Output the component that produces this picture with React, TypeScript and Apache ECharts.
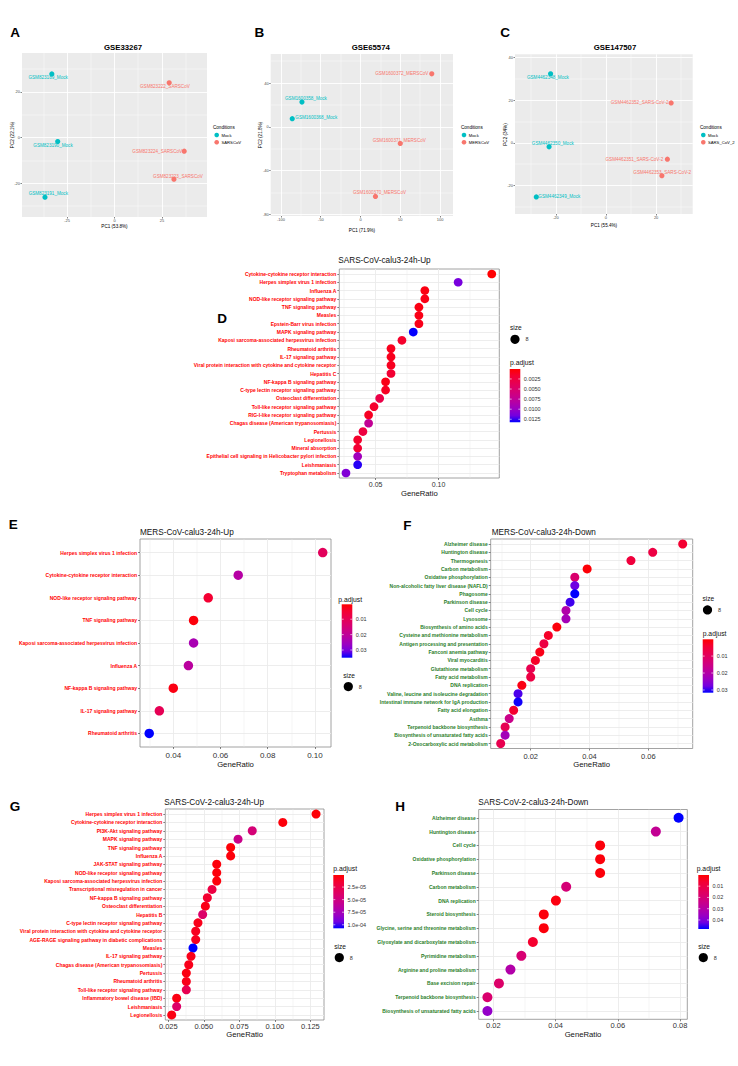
import React, { useEffect, useRef } from "react";
import * as echarts from "echarts";

const FONT = "'Liberation Sans', Arial, Helvetica, sans-serif";
const MOCK_COLOR = "#00BFC4";
const CASE_COLOR = "#F8766D";
const RED_LABEL = "#FF0000";
const GREEN_LABEL = "#2A7E2A";
const PADJ_COLORS = ["#FF0000", "#F40031", "#E8004F", "#DA006C", "#CA0088", "#B500A5", "#9A00C3", "#7300E0", "#0000FF"];

// ---------------- PCA data ----------------
const gse33267Samples = ["GSM823189_Mock", "GSM823190_Mock", "GSM823191_Mock", "GSM823222_SARSCoV", "GSM823224_SARSCoV", "GSM823223_SARSCoV"];
const gse33267PC1 = [-33.0, -29.9, -36.6, 28.8, 36.7, 31.3];
const gse33267PC2 = [27.9, -1.8, -26.2, 24.0, -6.0, -18.3];
const gse33267Mock = [true, true, true, false, false, false];
const gse33267XTicks = [-25, 0, 25];
const gse33267YTicks = [-20, 0, 20];

const gse65574Samples = ["GSM1600358_Mock", "GSM1600368_Mock", "GSM1600372_MERSCoV", "GSM1600371_MERSCoV", "GSM1600370_MERSCoV"];
const gse65574PC1 = [-73.6, -85.8, 89.6, 50.0, 18.8];
const gse65574PC2 = [22.7, 7.5, 48.5, -15.2, -63.6];
const gse65574Mock = [true, true, false, false, false];
const gse65574XTicks = [-100, -50, 0, 50, 100];
const gse65574YTicks = [-80, -40, 0, 40];

const gse147507Samples = ["GSM4462348_Mock", "GSM4462350_Mock", "GSM4462349_Mock", "GSM4462352_SARS-CoV-2", "GSM4462351_SARS-CoV-2", "GSM4462353_SARS-CoV-2"];
const gse147507PC1 = [-22.1, -22.7, -27.8, 26.0, 24.5, 22.3];
const gse147507PC2 = [32.4, -1.9, -25.5, 18.7, -7.7, -15.5];
const gse147507Mock = [true, true, true, false, false, false];
const gse147507XTicks = [-20, 0, 20];
const gse147507YTicks = [-20, 0, 20, 40];

// ---------------- Enrichment data ----------------
const dNames = [
  "Cytokine-cytokine receptor interaction", "Herpes simplex virus 1 infection", "Influenza A",
  "NOD-like receptor signaling pathway", "TNF signaling pathway", "Measles", "Epstein-Barr virus infection",
  "MAPK signaling pathway", "Kaposi sarcoma-associated herpesvirus infection", "Rheumatoid arthritis",
  "IL-17 signaling pathway", "Viral protein interaction with cytokine and cytokine receptor", "Hepatitis C",
  "NF-kappa B signaling pathway", "C-type lectin receptor signaling pathway", "Osteoclast differentiation",
  "Toll-like receptor signaling pathway", "RIG-I-like receptor signaling pathway",
  "Chagas disease (American trypanosomiasis)", "Pertussis", "Legionellosis", "Mineral absorption",
  "Epithelial cell signaling in Helicobacter pylori infection", "Leishmaniasis", "Tryptophan metabolism",
];
const dRatio = [0.1423, 0.1156, 0.0891, 0.0891, 0.0844, 0.0844, 0.0844, 0.0799, 0.0709, 0.0622, 0.0622, 0.0622, 0.0622, 0.0579, 0.0579, 0.0532, 0.0487, 0.0444, 0.0444, 0.0399, 0.0357, 0.0357, 0.0357, 0.0357, 0.0264];
const dPadj = [0.0001, 0.0114, 0.0006, 0.0008, 0.0007, 0.0008, 0.0009, 0.0132, 0.0015, 0.001, 0.001, 0.0011, 0.0018, 0.0008, 0.0012, 0.0029, 0.0015, 0.0012, 0.0073, 0.0025, 0.0015, 0.0018, 0.0095, 0.0127, 0.011];
const dXTicks = [0.05, 0.1];
const dPTicks = [0.0025, 0.005, 0.0075, 0.01, 0.0125];
const dPLabels = ["0.0025", "0.0050", "0.0075", "0.0100", "0.0125"];

const eNames = [
  "Herpes simplex virus 1 infection", "Cytokine-cytokine receptor interaction", "NOD-like receptor signaling pathway",
  "TNF signaling pathway", "Kaposi sarcoma-associated herpesvirus infection", "Influenza A",
  "NF-kappa B signaling pathway", "IL-17 signaling pathway", "Rheumatoid arthritis",
];
const eRatio = [0.1033, 0.0675, 0.0548, 0.0486, 0.0486, 0.0464, 0.04, 0.0341, 0.0298];
const ePadj = [0.0107, 0.0218, 0.0048, 0.0013, 0.0239, 0.021, 0.002, 0.0097, 0.035];
const eXTicks = [0.04, 0.06, 0.08, 0.1];
const ePTicks = [0.01, 0.02, 0.03];
const ePLabels = ["0.01", "0.02", "0.03"];

const fNames = [
  "Alzheimer disease", "Huntington disease", "Thermogenesis", "Carbon metabolism", "Oxidative phosphorylation",
  "Non-alcoholic fatty liver disease (NAFLD)", "Phagosome", "Parkinson disease", "Cell cycle", "Lysosome",
  "Biosynthesis of amino acids", "Cysteine and methionine metabolism", "Antigen processing and presentation",
  "Fanconi anemia pathway", "Viral myocarditis", "Glutathione metabolism", "Fatty acid metabolism",
  "DNA replication", "Valine, leucine and isoleucine degradation", "Intestinal immune network for IgA production",
  "Fatty acid elongation", "Asthma", "Terpenoid backbone biosynthesis", "Biosynthesis of unsaturated fatty acids",
  "2-Oxocarboxylic acid metabolism",
];
const fRatio = [0.0717, 0.0615, 0.0541, 0.0392, 0.035, 0.035, 0.035, 0.0334, 0.032, 0.032, 0.0289, 0.026, 0.0245, 0.0231, 0.0216, 0.02, 0.02, 0.017, 0.0157, 0.0157, 0.0142, 0.0127, 0.0113, 0.0113, 0.0098];
const fPadj = [0.0042, 0.0064, 0.0055, 0.0007, 0.0121, 0.0278, 0.0316, 0.0294, 0.0203, 0.0222, 0.001, 0.0033, 0.0064, 0.002, 0.0033, 0.008, 0.0064, 0.0017, 0.029, 0.031, 0.0039, 0.0158, 0.0086, 0.0222, 0.008];
const fXTicks = [0.02, 0.04, 0.06];
const fPTicks = [0.01, 0.02, 0.03];
const fPLabels = ["0.01", "0.02", "0.03"];

const gNames = [
  "Herpes simplex virus 1 infection", "Cytokine-cytokine receptor interaction", "PI3K-Akt signaling pathway",
  "MAPK signaling pathway", "TNF signaling pathway", "Influenza A", "JAK-STAT signaling pathway",
  "NOD-like receptor signaling pathway", "Kaposi sarcoma-associated herpesvirus infection",
  "Transcriptional misregulation in cancer", "NF-kappa B signaling pathway", "Osteoclast differentiation",
  "Hepatitis B", "C-type lectin receptor signaling pathway",
  "Viral protein interaction with cytokine and cytokine receptor",
  "AGE-RAGE signaling pathway in diabetic complications", "Measles", "IL-17 signaling pathway",
  "Chagas disease (American trypanosomiasis)", "Pertussis", "Rheumatoid arthritis",
  "Toll-like receptor signaling pathway", "Inflammatory bowel disease (IBD)", "Leishmaniasis", "Legionellosis",
];
const gRatio = [0.129, 0.1056, 0.0841, 0.0741, 0.0689, 0.0689, 0.0591, 0.0591, 0.0591, 0.0558, 0.0525, 0.0511, 0.0492, 0.0459, 0.0443, 0.0443, 0.0424, 0.041, 0.0394, 0.0377, 0.0377, 0.0377, 0.0309, 0.0309, 0.0274];
const gPadj = [3e-6, 4e-6, 4.55e-5, 5.4e-5, 3e-6, 4e-6, 4e-6, 4e-6, 4e-6, 2.2e-5, 1.4e-5, 7e-6, 3.9e-5, 8e-6, 9.5e-6, 9.5e-6, 1.07e-4, 8e-6, 8e-6, 6e-6, 8e-6, 2.85e-5, 6e-6, 3.8e-5, 6e-6];
const gXTicks = [0.025, 0.05, 0.075, 0.1, 0.125];
const gPTicks = [2.5e-5, 5e-5, 7.5e-5, 1e-4];
const gPLabels = ["2.5e-05", "5.0e-05", "7.5e-05", "1.0e-04"];

const hNames = [
  "Alzheimer disease", "Huntington disease", "Cell cycle", "Oxidative phosphorylation", "Parkinson disease",
  "Carbon metabolism", "DNA replication", "Steroid biosynthesis", "Glycine, serine and threonine metabolism",
  "Glyoxylate and dicarboxylate metabolism", "Pyrimidine metabolism", "Arginine and proline metabolism",
  "Base excision repair", "Terpenoid backbone biosynthesis", "Biosynthesis of unsaturated fatty acids",
];
const hRatio = [0.0795, 0.0722, 0.0543, 0.0543, 0.0543, 0.0434, 0.0401, 0.0362, 0.0362, 0.0327, 0.029, 0.0255, 0.0218, 0.0181, 0.0181];
const hPadj = [0.048, 0.0264, 0.0015, 0.0015, 0.0015, 0.0202, 0.002, 0.0015, 0.0015, 0.0058, 0.0193, 0.0308, 0.0173, 0.0183, 0.037];
const hXTicks = [0.02, 0.04, 0.06, 0.08];
const hPTicks = [0.01, 0.02, 0.03, 0.04];
const hPLabels = ["0.01", "0.02", "0.03", "0.04"];

// minor grid positions (half way between major ticks)
const minorOf = (ticks: number[], lo: number, hi: number) => {
  const step = ticks[1] - ticks[0];
  const out: number[] = [];
  for (let v = ticks[0] - step / 2; v <= hi; v += step) {
    if (v >= lo) out.push(+v.toFixed(8));
  }
  return out;
};

function buildOption() {
  const grid: any[] = [];
  const xAxis: any[] = [];
  const yAxis: any[] = [];
  const series: any[] = [];
  const visualMap: any[] = [];
  const graphic: any[] = [];

  const addText = (x: number, y: number, t: string, o: any = {}) => {
    graphic.push({
      type: "text",
      x,
      y,
      rotation: o.rotation || 0,
      silent: true,
      z: 10,
      style: {
        text: t,
        fontFamily: FONT,
        fontSize: o.size || 6,
        fontWeight: o.weight || "normal",
        fill: o.color || "#000",
        textAlign: o.align || "left",
        align: o.align || "left",
        textVerticalAlign: "middle",
        verticalAlign: "middle",
      },
    });
  };

  const valueAxis = (gi: number, min: number, max: number, ticks: number[], o: any) => ({
    type: "value",
    gridIndex: gi,
    min,
    max,
    inverse: !!o.inverse,
    position: o.position,
    axisLine: { show: false, onZero: false },
    axisTick: {
      show: !!o.tick,
      customValues: ticks,
      length: o.tickLen || 2,
      lineStyle: { color: o.tickColor || "#333", width: 0.6 },
    },
    axisLabel: o.label
      ? {
          show: true,
          customValues: ticks,
          formatter: o.formatter,
          fontSize: o.fontSize,
          fontFamily: FONT,
          color: o.labelColor || "#333",
          fontWeight: o.labelWeight || "normal",
          margin: o.margin ?? 3,
        }
      : { show: false, customValues: ticks },
    splitLine: { show: true, lineStyle: { color: o.gridColor, width: o.gridWidth } },
    minorTick: { show: false },
    minorSplitLine: { show: false },
  });

  // ---------- PCA panels ----------
  const addPca = (p: any) => {
    const gi = grid.length;
    const [l, t, r, b] = p.box;
    grid.push({ left: l, top: t, width: r - l, height: b - t, show: true, backgroundColor: "#EBEBEB", borderWidth: 0 });
    const xi = xAxis.length;
    const common = { tick: true, tickLen: 1.5, label: true, formatter: (v: number) => String(v), fontSize: 4, labelColor: "#4D4D4D", tickColor: "#333" };
    xAxis.push(valueAxis(gi, p.xMin, p.xMax, p.xTicks, { ...common, margin: 1.5, gridColor: "#FFFFFF", gridWidth: 0.9, position: "bottom" }));
    xAxis.push(valueAxis(gi, p.xMin, p.xMax, minorOf(p.xTicks, p.xMin, p.xMax), { gridColor: "#FFFFFF", gridWidth: 0.45, position: "top" }));
    const yi = yAxis.length;
    yAxis.push(valueAxis(gi, p.yMin, p.yMax, p.yTicks, { ...common, margin: 2, gridColor: "#FFFFFF", gridWidth: 0.9, position: "left" }));
    yAxis.push(valueAxis(gi, p.yMin, p.yMax, minorOf(p.yTicks, p.yMin, p.yMax), { gridColor: "#FFFFFF", gridWidth: 0.45, position: "right" }));
    [
      { mock: true, color: MOCK_COLOR },
      { mock: false, color: CASE_COLOR },
    ].forEach((g) => {
      const idx = p.names.map((_: string, i: number) => i).filter((i: number) => p.mock[i] === g.mock);
      series.push({
        type: "scatter",
        xAxisIndex: xi,
        yAxisIndex: yi,
        symbolSize: 5.2,
        silent: true,
        z: 3,
        itemStyle: { color: g.color, opacity: 1 },
        label: { show: true, formatter: "{b}", position: "inside", color: g.color, fontSize: 4.6, fontFamily: FONT },
        data: idx.map((i: number) => ({ name: p.names[i], value: [p.pc1[i], p.pc2[i]], label: { offset: p.offsets[i] } })),
      });
    });
    addText(p.titlePos[0], p.titlePos[1], p.title, { size: 7.8, weight: "bold", align: "center" });
    addText(p.xTitlePos[0], p.xTitlePos[1], p.xTitle, { size: 4.6, align: "center" });
    addText(p.yTitlePos[0], p.yTitlePos[1], p.yTitle, { size: 4.6, align: "center", rotation: Math.PI / 2 });
    const [lx, ly, cx, tx] = p.legend;
    addText(lx, ly, "Conditions", { size: 4.6 });
    [["Mock", MOCK_COLOR], [p.caseName, CASE_COLOR]].forEach((it, k) => {
      const y = ly + 7.3 * (k + 1);
      graphic.push({ type: "circle", silent: true, shape: { cx, cy: y, r: 2.3 }, style: { fill: it[1] } });
      addText(tx, y, it[0], { size: 4.2 });
    });
  };

  // ---------- dot plot panels ----------
  const addDot = (p: any) => {
    const gi = grid.length;
    const [l, t, r, b] = p.box;
    grid.push({ left: l, top: t, width: r - l, height: b - t, show: true, backgroundColor: "#FFFFFF", borderColor: "#8C8C8C", borderWidth: 0.8 });
    const xi = xAxis.length;
    xAxis.push(
      valueAxis(gi, p.xMin, p.xMax, p.xTicks, {
        tick: true,
        tickLen: 2,
        label: true,
        formatter: (v: number) => v.toFixed(p.xDec),
        fontSize: p.tickFont,
        labelColor: "#333",
        margin: p.tickMargin,
        gridColor: "#EBEBEB",
        gridWidth: 0.9,
        position: "bottom",
      })
    );
    xAxis.push(valueAxis(gi, p.xMin, p.xMax, minorOf(p.xTicks, p.xMin, p.xMax), { gridColor: "#EBEBEB", gridWidth: 0.45, position: "top" }));
    const yi = yAxis.length;
    const rows = p.names.map((_: string, i: number) => i);
    yAxis.push(
      valueAxis(gi, -0.6, p.names.length - 0.4, rows, {
        inverse: true,
        tick: true,
        tickLen: 2,
        label: true,
        formatter: (v: number) => p.names[Math.round(v)] ?? "",
        fontSize: 5,
        labelColor: p.labelColor,
        labelWeight: "bold",
        margin: 3,
        gridColor: "#EBEBEB",
        gridWidth: 0.9,
        position: "left",
      })
    );
    const si = series.length;
    series.push({
      type: "scatter",
      xAxisIndex: xi,
      yAxisIndex: yi,
      symbolSize: p.symbolSize,
      silent: true,
      z: 3,
      itemStyle: { opacity: 1 },
      data: p.ratio.map((v: number, i: number) => [v, i, p.padj[i]]),
    });
    visualMap.push({ type: "continuous", show: false, seriesIndex: si, dimension: 2, min: p.pMin, max: p.pMax, inRange: { color: PADJ_COLORS } });

    addText(p.titlePos[0], p.titlePos[1], p.title, { size: 8.2, color: "#111" });
    addText(p.xTitlePos[0], p.xTitlePos[1], "GeneRatio", { size: 7.7, align: "center", color: "#111" });

    // size legend
    const [sx, sy] = p.sizeLegend;
    addText(sx, sy, "size", { size: 6.6, color: "#111" });
    graphic.push({ type: "circle", silent: true, shape: { cx: sx + 5, cy: sy + 11.6, r: 4.6 }, style: { fill: "#000" } });
    addText(sx + 15.5, sy + 11.6, "8", { size: 5.5, color: "#333" });

    // colour bar
    const [px, py] = p.pLegend;
    addText(px, py, "p.adjust", { size: 6.8, color: "#111" });
    const [bl, bt, bw, bh] = [p.bar[0], p.bar[1], p.bar[2] - p.bar[0], p.bar[3] - p.bar[1]];
    graphic.push({
      type: "rect",
      silent: true,
      shape: { x: bl, y: bt, width: bw, height: bh },
      style: {
        fill: new echarts.graphic.LinearGradient(0, 0, 0, 1, PADJ_COLORS.map((c, i) => ({ offset: i / (PADJ_COLORS.length - 1), color: c }))),
      },
    });
    p.pTicks.forEach((v: number, i: number) => {
      const y = bt + ((v - p.pMin) / (p.pMax - p.pMin)) * bh;
      graphic.push({ type: "line", silent: true, shape: { x1: bl, y1: y, x2: bl + 2, y2: y }, style: { stroke: "#fff", lineWidth: 0.6 } });
      graphic.push({ type: "line", silent: true, shape: { x1: bl + bw - 2, y1: y, x2: bl + bw, y2: y }, style: { stroke: "#fff", lineWidth: 0.6 } });
      addText(bl + bw + 3.5, y, p.pLabels[i], { size: 5.5, color: "#333" });
    });
  };

  addPca({
    names: gse33267Samples, pc1: gse33267PC1, pc2: gse33267PC2, mock: gse33267Mock,
    offsets: [[-3.7, 3.3], [-4.7, 3.7], [3.3, -3.3], [-4.3, 4], [-27, 0], [4, -3]],
    box: [22, 53, 207, 217], xMin: -48.7, xMax: 48.7, xTicks: gse33267XTicks, yMin: -34.9, yMax: 37.1, yTicks: gse33267YTicks,
    title: "GSE33267", titlePos: [123, 47.3], xTitle: "PC1 (53.8%)", xTitlePos: [114.5, 226], yTitle: "PC2 (22.1%)", yTitlePos: [12.7, 135],
    legend: [213, 127.7, 216.7, 221.5], caseName: "SARSCoV",
  });
  addPca({
    names: gse65574Samples, pc1: gse65574PC1, pc2: gse65574PC2, mock: gse65574Mock,
    offsets: [[4, -3.3], [24, -0.7], [-30, 0], [-1, -3], [4, -3.6]],
    box: [270.7, 54, 453, 216], xMin: -112.9, xMax: 116.3, xTicks: gse65574XTicks, yMin: -81.5, yMax: 66.6, yTicks: gse65574YTicks,
    title: "GSE65574", titlePos: [370.8, 47.3], xTitle: "PC1 (71.9%)", xTitlePos: [362, 230], yTitle: "PC2 (21.8%)", yTitlePos: [260, 135],
    legend: [461, 127.7, 464, 468.8], caseName: "MERSCoV",
  });
  addPca({
    names: gse147507Samples, pc1: gse147507PC1, pc2: gse147507PC2, mock: gse147507Mock,
    offsets: [[-2.7, 3.3], [3.7, -3.7], [23, 0], [-31.5, 0], [-33, 0], [0.3, -3]],
    box: [515, 54.3, 692.7, 214], xMin: -36.3, xMax: 34.6, xTicks: gse147507XTicks, yMin: -33.5, yMax: 41.6, yTicks: gse147507YTicks,
    title: "GSE147507", titlePos: [615, 47.3], xTitle: "PC1 (55.4%)", xTitlePos: [604, 225], yTitle: "PC2 (34%)", yTitlePos: [505, 134.5],
    legend: [700, 127.7, 703.3, 708], caseName: "SARS_CoV_2",
  });

  addDot({
    names: dNames, ratio: dRatio, padj: dPadj, labelColor: RED_LABEL, title: "SARS-CoV-calu3-24h-Up",
    box: [339.3, 269, 499.3, 478], xMin: 0.0211, xMax: 0.1483, xTicks: dXTicks, xDec: 2, tickFont: 7, tickMargin: 3,
    symbolSize: 8.7, titlePos: [338.3, 260.7], xTitlePos: [419.3, 493],
    pMin: 0.00003, pMax: 0.01325, pTicks: dPTicks, pLabels: dPLabels,
    sizeLegend: [510, 327.7], pLegend: [510, 362.7], bar: [509.7, 369, 520.3, 422.3],
  });
  addDot({
    names: eNames, ratio: eRatio, padj: ePadj, labelColor: RED_LABEL, title: "MERS-CoV-calu3-24h-Up",
    box: [140, 539, 331, 747], xMin: 0.0259, xMax: 0.1068, xTicks: eXTicks, xDec: 2, tickFont: 8, tickMargin: 4,
    symbolSize: 9.5, titlePos: [140, 532], xTitlePos: [235.5, 764],
    pMin: 0.0003, pMax: 0.035, pTicks: ePTicks, pLabels: ePLabels,
    sizeLegend: [343.3, 675], pLegend: [338.3, 599], bar: [341.7, 604.3, 352.3, 657.7],
  });
  addDot({
    names: fNames, ratio: fRatio, padj: fPadj, labelColor: GREEN_LABEL, title: "MERS-CoV-calu3-24h-Down",
    box: [490.7, 539, 692.7, 748.5], xMin: 0.0064, xMax: 0.0751, xTicks: fXTicks, xDec: 2, tickFont: 7.5, tickMargin: 3.7,
    symbolSize: 9, titlePos: [491.7, 532.3], xTitlePos: [591.7, 764],
    pMin: 0.0001, pMax: 0.0316, pTicks: fPTicks, pLabels: fPLabels,
    sizeLegend: [702.5, 598.3], pLegend: [702.7, 633.3], bar: [702.7, 639.3, 713.3, 692.7],
  });
  addDot({
    names: gNames, ratio: gRatio, padj: gPadj, labelColor: RED_LABEL, title: "SARS-CoV-2-calu3-24h-Up",
    box: [165.3, 809, 324, 1020], xMin: 0.0229, xMax: 0.1346, xTicks: gXTicks, xDec: 3, tickFont: 7.5, tickMargin: 2,
    symbolSize: 9, titlePos: [164.3, 802.3], xTitlePos: [244.7, 1034.7],
    pMin: 1e-6, pMax: 1.07e-4, pTicks: gPTicks, pLabels: gPLabels,
    sizeLegend: [334.3, 946], pLegend: [333.3, 868.3], bar: [333.3, 875, 344, 928.3],
  });
  addDot({
    names: hNames, ratio: hRatio, padj: hPadj, labelColor: GREEN_LABEL, title: "SARS-CoV-2-calu3-24h-Down",
    box: [478.7, 809.5, 687.3, 1019.3], xMin: 0.0153, xMax: 0.0823, xTicks: hXTicks, xDec: 2, tickFont: 7.5, tickMargin: 2.6,
    symbolSize: 10, titlePos: [478.3, 802.3], xTitlePos: [583, 1034.7],
    pMin: 0.0001, pMax: 0.048, pTicks: hPTicks, pLabels: hPLabels,
    sizeLegend: [698.3, 946], pLegend: [696.7, 868.3], bar: [698.3, 875, 709, 929],
  });

  // panel letters
  const letters: [string, number, number][] = [
    ["A", 15, 32.3], ["B", 259.3, 32.7], ["C", 505, 32.7], ["D", 222, 318],
    ["E", 13.3, 524], ["F", 407.3, 525], ["G", 15, 806], ["H", 400, 806],
  ];
  letters.forEach(([t, x, y]) => addText(x, y, t, { size: 13.5, weight: "bold", align: "center" }));

  return { animation: false, backgroundColor: "#FFFFFF", grid, xAxis, yAxis, series, visualMap, graphic: { elements: graphic } };
}

export default function App() {
  const ref = useRef<HTMLDivElement>(null);
  useEffect(() => {
    if (!ref.current) return;
    const chart = echarts.init(ref.current, null, { renderer: "svg" });
    chart.setOption(buildOption() as any);
    return () => chart.dispose();
  }, []);
  return <div ref={ref} style={{ position: "absolute", left: 0, top: 0, width: 738, height: 1066, background: "#fff" }} />;
}
